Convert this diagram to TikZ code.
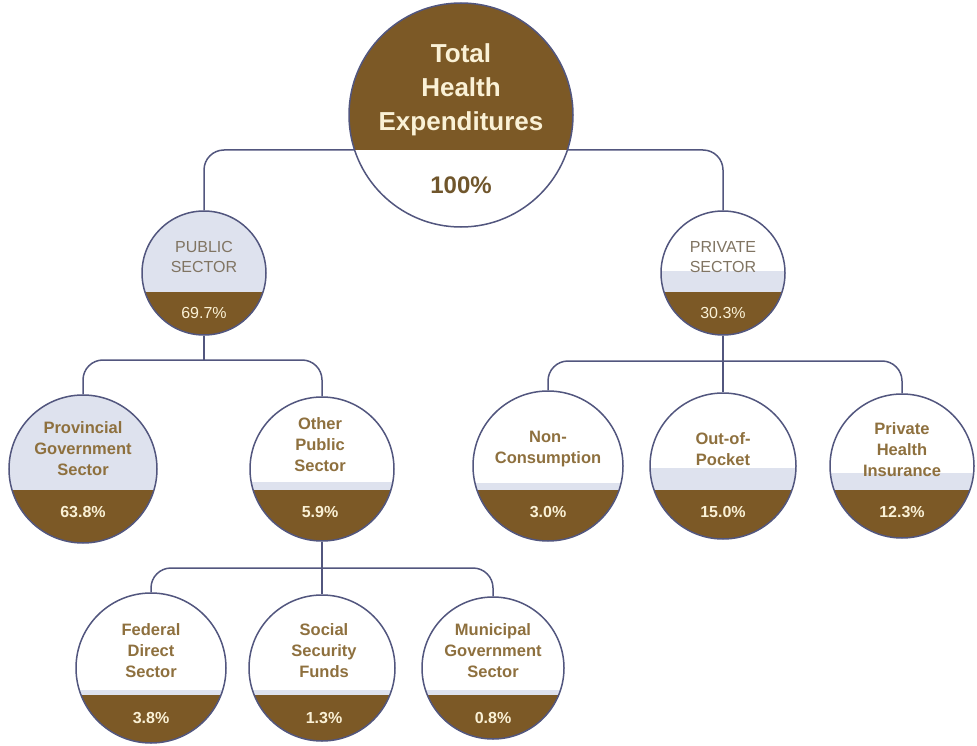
\documentclass[tikz,border=0pt]{standalone}
\usepackage{fontspec}
\setmainfont{Liberation Sans}
\usetikzlibrary{backgrounds}
\definecolor{brn}{RGB}{124,89,38}
\definecolor{lav}{RGB}{222,226,238}
\definecolor{edge}{RGB}{82,86,126}
\definecolor{tantxt}{RGB}{142,112,62}
\definecolor{gry}{RGB}{128,116,98}
\definecolor{cream}{RGB}{250,241,214}
\definecolor{pcttxt}{RGB}{112,86,44}
\newcommand\bubblefill[6]{%
  \begin{scope}
    \clip (#1,#2) circle (#3pt);
    \fill[#4] (#1-#3,#2-#3) rectangle (#1+#3,#2+#3);
    \fill[lav] (#1-#3,#5) rectangle (#1+#3,#6);
    \fill[brn] (#1-#3,#6) rectangle (#1+#3,#2+#3);
  \end{scope}}
\begin{document}
\begin{tikzpicture}[x=1pt,y=-1pt,
  ring/.style={circle, draw=edge, line width=1.5pt, inner sep=0pt, minimum size=#1},
  conn/.style={draw=edge, line width=1.5pt, rounded corners=20pt},
  lbl/.style={font=\bfseries\fontsize{16.5}{21}\selectfont, text=tantxt, align=center},
  sectcap/.style={font=\fontsize{16}{20}\selectfont, text=gry, align=center},
  pct/.style={font=\bfseries\fontsize{16}{20}\selectfont, text=cream},
]
\useasboundingbox (0,0) rectangle (977,746);

% Total
\begin{scope}
  \clip (461,115) circle (112pt);
  \fill[white] (349,3) rectangle (573,227);
  \fill[brn] (349,3) rectangle (573,150);
\end{scope}
\node[ring=224pt] (total) at (461,115) {};
\node[font=\bfseries\fontsize{26}{34}\selectfont, text=cream, align=center] (totT) at (461,90) {Total\\Health\\Expenditures};
\node[font=\bfseries\fontsize{24}{28}\selectfont, text=pcttxt] (totP) at (461,185) {100\%};

% Public / Private
\bubblefill{204}{273}{62}{lav}{292}{292}
\node[ring=124pt] (pub) at (204,273) {};
\node[sectcap] (pubT) at (204,257) {PUBLIC\\SECTOR};
\node[pct, font=\fontsize{16}{20}\selectfont] (pubP) at (204,313) {69.7\%};

\bubblefill{723}{273}{62}{white}{271}{292}
\node[ring=124pt] (priv) at (723,273) {};
\node[sectcap] (privT) at (723,257) {PRIVATE\\SECTOR};
\node[pct, font=\fontsize{16}{20}\selectfont] (privP) at (723,313) {30.3\%};

% Second row
\bubblefill{83}{469}{74}{lav}{490}{490}
\node[ring=148pt] (prov) at (83,469) {};
\node[lbl] (provT) at (83,449) {Provincial\\Government\\Sector};
\node[pct] (provP) at (83,512) {63.8\%};

\bubblefill{322}{469}{72}{white}{482}{490}
\node[ring=144pt] (other) at (322,469) {};
\node[lbl] (otherT) at (320,445) {Other\\Public\\Sector};
\node[pct] (otherP) at (320,512) {5.9\%};

\bubblefill{548}{466}{75}{white}{483}{490}
\node[ring=150pt] (noncons) at (548,466) {};
\node[lbl] (nonconsT) at (548,449) {Non-\\Consumption};
\node[pct] (nonconsP) at (548,512) {3.0\%};

\bubblefill{723}{466}{73}{white}{468}{490}
\node[ring=146pt] (oop) at (723,466) {};
\node[lbl] (oopT) at (723,449) {Out-of-\\Pocket};
\node[pct] (oopP) at (723,512) {15.0\%};

\bubblefill{902}{466}{72}{white}{473}{490}
\node[ring=144pt] (phi) at (902,466) {};
\node[lbl] (phiT) at (902,450) {Private\\Health\\Insurance};
\node[pct] (phiP) at (902,512) {12.3\%};

% Third row
\bubblefill{151}{668}{75}{white}{690}{695}
\node[ring=150pt] (fed) at (151,668) {};
\node[lbl] (fedT) at (151,651) {Federal\\Direct\\Sector};
\node[pct] (fedP) at (151,718) {3.8\%};

\bubblefill{322}{668}{73}{white}{690}{695}
\node[ring=146pt] (ssf) at (322,668) {};
\node[lbl] (ssfT) at (324,651) {Social\\Security\\Funds};
\node[pct] (ssfP) at (324,718) {1.3\%};

\bubblefill{493}{668}{71}{white}{690}{695}
\node[ring=142pt] (mun) at (493,668) {};
\node[lbl] (munT) at (493,651) {Municipal\\Government\\Sector};
\node[pct] (munP) at (493,718) {0.8\%};

% Connectors
\begin{pgfonlayer}{background}
  \fill[white] (0,0) rectangle (977,746);
  \coordinate (tj) at (461,150);
  \draw[conn] (pub.north) |- (tj) -| (priv.north);
  \coordinate (pj) at (204,360);
  \draw[conn] (pub.south) -- (pj);
  \draw[conn] (prov.north) |- (pj) -| (other.north);
  \coordinate (vj) at (723,361);
  \draw[conn] (priv.south) -- (oop.north);
  \draw[conn] (noncons.north) |- (vj) -| (phi.north);
  \coordinate (oj) at (322,568);
  \draw[conn] (other.south) -- (ssf.north);
  \draw[conn] (fed.north) |- (oj) -| (mun.north);
\end{pgfonlayer}
\end{tikzpicture}
\end{document}
